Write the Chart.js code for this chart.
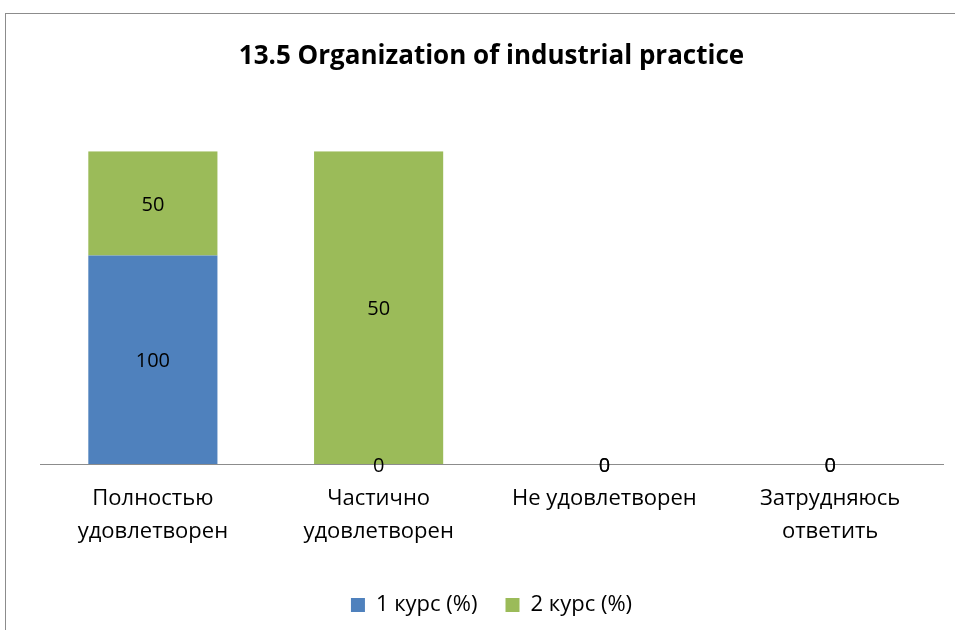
<!DOCTYPE html>
<html>
<head>
  <title>Chart</title>
<script src="https://cdn.jsdelivr.net/npm/chart.js"></script>
<style>
body { margin: 0; background: #fff; }
#wrap { position: relative; width: 955px; height: 630px; }
#frame { position: absolute; left: 5px; top: 13px; right: -2px; bottom: -2px; border: 1px solid #8c8c8c; }
canvas { position: absolute; left: 0; top: 0; }
</style>
</head>
<body>
<div id="wrap">
  <div id="frame"></div>
  <canvas id="myChart" width="955" height="630"></canvas>
</div>
<script>
const categories = [
  ['Полностью', 'удовлетворен'],
  ['Частично', 'удовлетворен'],
  'Не удовлетворен',
  ['Затрудняюсь', 'ответить']
];
const course1 = [100, 0, 0, 0];
const course2 = [50, 50, 0, 0];
const seriesNames = ['1 курс (%)', '2 курс (%)'];

const FONT = "'Open Sans', sans-serif";

// 100% stacked: bar height is the share of the column total
const totals = categories.map((c, i) => course1[i] + course2[i]);
const share = arr => arr.map((v, i) => totals[i] ? v / totals[i] * 100 : 0);

const valueLabels = {
  id: 'valueLabels',
  afterDatasetsDraw(chart) {
    const ctx = chart.ctx;
    ctx.save();
    ctx.font = '20px ' + FONT;
    ctx.fillStyle = '#000';
    ctx.textAlign = 'center';
    ctx.textBaseline = 'middle';
    chart.data.datasets.forEach((ds, di) => {
      const meta = chart.getDatasetMeta(di);
      meta.data.forEach((bar, i) => {
        const y = (bar.y + bar.base) / 2;
        ctx.fillText(String(ds.raw[i]), bar.x, y + 2);
      });
    });
    ctx.restore();
  }
};

const config = {
  type: 'bar',
  data: {
    labels: categories,
    datasets: [
      {
        label: seriesNames[0],
        data: share(course1),
        raw: course1,
        backgroundColor: '#4f81bd',
        barPercentage: 1,
        categoryPercentage: 0.572
      },
      {
        label: seriesNames[1],
        data: share(course2),
        raw: course2,
        backgroundColor: '#9bbb59',
        barPercentage: 1,
        categoryPercentage: 0.572
      }
    ]
  },
  options: {
    responsive: false,
    animation: false,
    layout: { padding: { left: 40, right: 12, top: 0, bottom: 4 } },
    plugins: {
      title: {
        display: true,
        text: '13.5 Organization of industrial practice',
        color: '#000',
        font: { family: FONT, size: 26, weight: 'bold' },
        padding: { top: 41, bottom: 79 }
      },
      legend: {
        position: 'bottom',
        labels: {
          color: '#000',
          font: { family: FONT, size: 22 },
          boxWidth: 14,
          boxHeight: 14,
          padding: 28
        }
      },
      tooltip: { enabled: false }
    },
    scales: {
      x: {
        stacked: true,
        grid: { display: false, drawTicks: false },
        border: { display: true, color: '#8c8c8c', width: 1 },
        ticks: {
          color: '#000',
          font: { family: FONT, size: 22, lineHeight: 1.5 },
          padding: 18,
          maxRotation: 0
        }
      },
      y: {
        stacked: true,
        display: false,
        min: 0,
        max: 100
      }
    }
  },
  plugins: [valueLabels]
};

const myChart = new Chart(document.getElementById('myChart'), config);
</script>
</body>
</html>
